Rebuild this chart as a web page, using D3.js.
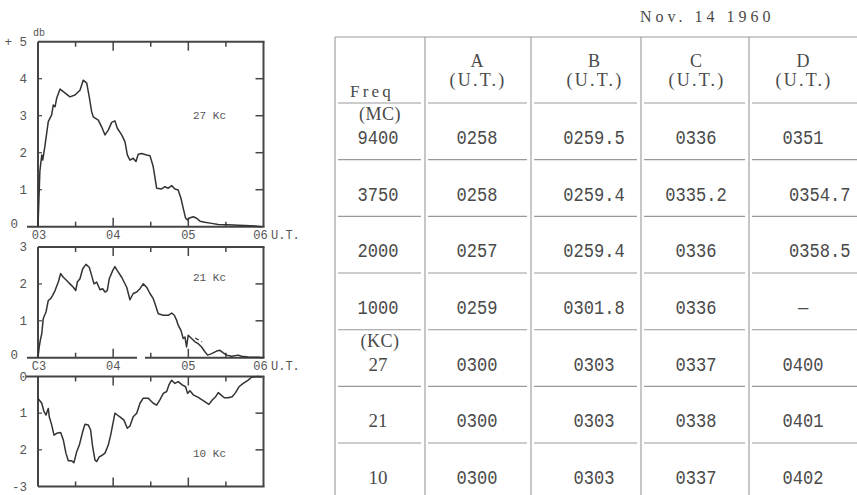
<!DOCTYPE html>
<html>
<head>
<meta charset="utf-8">
<script src="https://cdn.jsdelivr.net/npm/d3@7/dist/d3.min.js"></script>
<style>
  html, body { margin: 0; padding: 0; background: #fff; }
  svg { display: block; }
</style>
</head>
<body>
<svg id="fig" width="857" height="495"></svg>
<script>
// ---- Data ---------------------------------------------------------------
// Minutes after 03:00 U.T. and signal change in db for each VLF record.
const t27  = [0,1.5,3,3.8,5.6,8.2,10.9,12.2,13.6,14.9,17.6,20.2,25.5,29.5,33.5,36.1,38.9,40.9,42.8,44.1,48.1,50.8,53.5,56.1,58.8,61.4,63.3,66.8,69.4,71.3,73.4,76.0,78.2,80.0,82.7,86.7,89.4,92.0,94.7,98.7,101.3,104.0,106.7,109.3,111.9,114.1,115.9,117.8,119.4,120.5,123.9,126.6,129.3,133.2,138.6,143.9,151.8,159.8,165.2,173.1,178.5];
const db27 = [0,1.5,1.94,1.8,2.2,2.84,3.02,3.29,3.24,3.47,3.72,3.65,3.51,3.56,3.69,3.96,3.88,3.51,3.11,2.97,2.88,2.70,2.48,2.61,2.82,2.86,2.66,2.48,2.30,1.94,1.80,1.85,1.76,1.96,1.98,1.94,1.92,1.62,1.04,1.02,1.08,1.04,1.11,1.02,0.99,0.77,0.50,0.23,0.18,0.23,0.27,0.23,0.15,0.12,0.09,0.06,0.05,0.04,0.03,0.02,0];

const t21  = [0,1,2,3,4.2,6.4,8.2,10.1,11.7,13.6,16.2,18.1,20.2,22.9,25.5,28.2,30.1,31.4,33.5,35.7,38.3,40.9,42.8,44.7,46.8,49.5,51.6,53.5,55.3,56.9,59.6,61.4,63.3,66.8,70.8,73.4,76.0,78.8,81.4,84.0,86.7,89.4,92.0,93.4,96.0,100.0,104.0,106.7,108.8,110.7,111.9,114.1,115.9,117.3,118.6,119.9,122.6,125.3,127.9,130.6,133.2,135.4,138.6,142.6,145.2,147.9,150.6,154.6,159.8,162.5,167.8,175.8,180];
const db21 = [0,0.3,0.5,0.65,1.06,1.24,1.55,1.60,1.69,1.82,2.05,2.28,2.18,2.09,2.0,1.91,1.82,2.05,2.14,2.41,2.53,2.45,2.23,2.0,2.05,1.84,1.87,1.78,1.82,2.14,2.36,2.47,2.36,2.18,1.91,1.57,1.74,1.78,1.87,2.0,1.91,1.74,1.60,1.46,1.19,1.15,1.15,1.21,1.15,1.01,0.88,0.74,0.52,0.56,0.29,0.61,0.52,0.43,0.38,0.29,0.16,0.07,0.11,0.18,0.20,0.13,0.07,0.04,0.07,0.04,0.02,0.01,0];
// short dashed alternative trace on the 21 Kc record
const t21dash  = [125.5, 131];
const db21dash = [0.53, 0.43];

const t10  = [0,1.0,3.0,4.8,6.4,8.2,9.0,10.9,12.8,14.9,18.1,20.2,22.3,24.2,26.9,28.7,30.9,33.0,35.7,37.5,40.1,42.0,43.6,45.5,46.8,48.9,51.6,53.5,56.1,58.0,59.6,61.4,63.3,65.4,68.6,71.3,73.4,76.0,78.8,81.4,84.0,88.0,89.4,92.0,94.7,97.3,100.0,102.7,104.5,106.7,109.3,111.9,115.1,117.8,119.4,121.3,123.9,127.9,131.9,136.4,139.1,141.8,143.9,146.0,148.7,151.8,155.0,157.7,160.4,163.8,167.8,170.5,175.8,178.5];
const db10 = [0.6,0.64,0.73,0.96,1.05,0.87,1.10,1.32,1.60,1.55,1.53,1.73,2.09,2.30,2.30,2.35,2.05,1.87,1.50,1.30,1.32,1.46,1.91,2.28,2.32,2.19,2.14,2.09,1.87,1.60,1.32,1.00,1.05,1.10,1.19,1.41,1.35,1.10,1.00,0.73,0.59,0.59,0.64,0.73,0.78,0.64,0.46,0.41,0.23,0.10,0.19,0.14,0.23,0.28,0.46,0.39,0.50,0.57,0.66,0.76,0.64,0.55,0.44,0.50,0.58,0.58,0.55,0.44,0.28,0.19,0.10,0.02,0,0.02];

const hourTicks = [0, 60, 120, 180];
const halfTicks = [30, 90, 150];

// Table of onset times
const tableDate = "Nov. 14 1960";
const colHeads  = ["A", "B", "C", "D"];
const freqs = ["9400", "3750", "2000", "1000", "27", "21", "10"];
const freqUnits = ["(MC)", "", "", "", "(KC)", "", ""];
const colA = ["0258", "0258", "0257", "0259", "0300", "0300", "0300"];
const colB = ["0259.5", "0259.4", "0259.4", "0301.8", "0303", "0303", "0303"];
const colC = ["0336", "0335.2", "0336", "0336", "0337", "0338", "0337"];
const colD = ["0351", "0354.7", "0358.5", "\u2014", "0400", "0401", "0402"];

// ---- Drawing ------------------------------------------------------------
const svg = d3.select("#fig");
const INK = "#333";
const FRAME = "#444";
const labelFont = "'Liberation Mono', 'DejaVu Sans Mono', monospace";
const serif = "'Liberation Serif', 'DejaVu Serif', serif";

const x = d3.scaleLinear().domain([0, 180]).range([38, 263.5]);

const panels = [
  { t: t27, v: db27, top: 41.7, bottom: 226.7, domain: [0, 5], yTicks: [1,2,3,4],
    yLabels: [[5,"+ 5"],[4,"4"],[3,"3"],[2,"2"],[1,"1"]], zeroLabel: "0",
    name: "27 Kc", nameY: 119, xLabels: ["03","04","05","06"], axisBelow: true, gap: null },
  { t: t21, v: db21, top: 247, bottom: 357.7, domain: [0, 3], yTicks: [1,2],
    yLabels: [[3,"3"],[2,"2"],[1,"1"]], zeroLabel: "0",
    name: "21 Kc", nameY: 281, xLabels: ["C3","04","05","06"], axisBelow: true, gap: [137, 145] },
  { t: t10, v: db10, top: 376.5, bottom: 486.5, domain: [3, 0], yTicks: [1,2],
    yLabels: [[0,"0"],[1,"1"],[2,"2"],[3,"-3"]], zeroLabel: null,
    name: "10 Kc", nameY: 457, xLabels: null, axisBelow: false, gap: null }
];

const line = (y) => d3.line().x(d => x(d[0])).y(d => y(d[1])).curve(d3.curveLinear);

panels.forEach((p, idx) => {
  const y = d3.scaleLinear().domain(p.domain).range([p.bottom, p.top]);
  const g = svg.append("g");
  const L = x(0), R = x(180);

  // frame
  g.append("line").attr("x1", L).attr("x2", L).attr("y1", p.top).attr("y2", p.bottom)
    .attr("stroke", FRAME).attr("stroke-width", 2);
  g.append("line").attr("x1", R).attr("x2", R).attr("y1", p.top).attr("y2", p.bottom)
    .attr("stroke", FRAME).attr("stroke-width", 2);
  const topStart = idx === 2 ? 26 : L;
  g.append("line").attr("x1", topStart).attr("x2", R + 1).attr("y1", p.top).attr("y2", p.top)
    .attr("stroke", FRAME).attr("stroke-width", 2);
  const botStart = p.axisBelow ? 27 : L;
  if (p.gap) {
    g.append("line").attr("x1", botStart).attr("x2", p.gap[0]).attr("y1", p.bottom).attr("y2", p.bottom)
      .attr("stroke", FRAME).attr("stroke-width", 2);
    g.append("line").attr("x1", p.gap[1]).attr("x2", R + 1).attr("y1", p.bottom).attr("y2", p.bottom)
      .attr("stroke", FRAME).attr("stroke-width", 2);
  } else {
    g.append("line").attr("x1", botStart).attr("x2", R + 1).attr("y1", p.bottom).attr("y2", p.bottom)
      .attr("stroke", FRAME).attr("stroke-width", 2);
  }

  // time ticks, inward from top and bottom edges
  const tickData = hourTicks.slice(1, 3).map(v => [v, 9]).concat(halfTicks.map(v => [v, 5]));
  g.selectAll(".tt").data(tickData).join("line")
    .attr("x1", d => x(d[0])).attr("x2", d => x(d[0]))
    .attr("y1", p.top).attr("y2", d => p.top + d[1])
    .attr("stroke", FRAME).attr("stroke-width", 1.5);
  g.selectAll(".bt").data(tickData).join("line")
    .attr("x1", d => x(d[0])).attr("x2", d => x(d[0]))
    .attr("y1", p.bottom).attr("y2", d => p.bottom - d[1])
    .attr("stroke", FRAME).attr("stroke-width", 1.5);

  // value ticks, inward from both sides
  g.selectAll(".rt").data(p.yTicks).join("line")
    .attr("x1", R).attr("x2", R - 8).attr("y1", d => y(d)).attr("y2", d => y(d))
    .attr("stroke", FRAME).attr("stroke-width", 1.5);
  g.selectAll(".lt").data(p.yTicks).join("line")
    .attr("x1", L).attr("x2", L + 4).attr("y1", d => y(d)).attr("y2", d => y(d))
    .attr("stroke", FRAME).attr("stroke-width", 1.2);

  // value labels
  g.selectAll(".yl").data(p.yLabels).join("text")
    .attr("x", 27).attr("y", d => y(d[0]) + 4)
    .attr("text-anchor", "end")
    .attr("font-family", labelFont).attr("font-size", 12.5).attr("fill", "#555")
    .text(d => d[1]);
  if (p.zeroLabel) {
    g.append("text").attr("x", 18).attr("y", y(0) + 1)
      .attr("text-anchor", "end")
      .attr("font-family", labelFont).attr("font-size", 12.5).attr("fill", "#555")
      .text(p.zeroLabel);
  }

  // time labels under the axis
  if (p.xLabels) {
    g.selectAll(".xl").data(hourTicks).join("text")
      .attr("x", (d, i) => x(d) + (i === 0 ? 1 : i === 3 ? -3 : 0))
      .attr("y", p.bottom + 12)
      .attr("text-anchor", "middle")
      .attr("font-family", labelFont).attr("font-size", 12).attr("fill", "#555")
      .text((d, i) => p.xLabels[i]);
    g.append("text").attr("x", 271).attr("y", p.bottom + 12)
      .attr("font-family", labelFont).attr("font-size", 12).attr("fill", "#555")
      .text("U.T.");
  }

  // panel name
  g.append("text").attr("x", 193).attr("y", p.nameY)
    .attr("font-family", labelFont).attr("font-size", 11).attr("fill", "#555")
    .text(p.name);

  // record trace
  g.append("path")
    .datum(p.t.map((tv, i) => [tv, p.v[i]]))
    .attr("d", line(y))
    .attr("fill", "none").attr("stroke", INK).attr("stroke-width", 1.5)
    .attr("stroke-linejoin", "round");

  if (idx === 1) {
    g.append("path")
      .datum(t21dash.map((tv, i) => [tv, db21dash[i]]))
      .attr("d", line(y))
      .attr("fill", "none").attr("stroke", INK).attr("stroke-width", 1.2)
      .attr("stroke-dasharray", "4,3");
  }
});

// "db" unit over the top panel
svg.append("text").attr("x", 33).attr("y", 36)
  .attr("font-family", labelFont).attr("font-size", 10).attr("fill", "#555").text("db");

// ---- Table ---------------------------------------------------------------
const tbl = svg.append("g");
const colEdges = [335, 425, 531, 641, 749, 870];
const colCenters = [378, 477, 594, 696, 803];
const headTop = 37, headBottom = 103, rowH = 56.67;
const rowTop = i => headBottom + i * rowH;
const GRID = "#999";
const TXT = "#4a4a4a";

tbl.append("text").attr("x", 640).attr("y", 22)
  .attr("font-family", serif).attr("font-size", 16).attr("letter-spacing", 4)
  .attr("fill", TXT).text(tableDate);

tbl.append("line").attr("x1", colEdges[0]).attr("x2", 857).attr("y1", headTop).attr("y2", headTop)
  .attr("stroke", GRID).attr("stroke-width", 1.2);
tbl.selectAll(".vl").data(colEdges.slice(0, 5)).join("line")
  .attr("x1", d => d).attr("x2", d => d).attr("y1", headTop).attr("y2", 495)
  .attr("stroke", GRID).attr("stroke-width", 1.1);

// broken horizontal rules, one segment per cell
const ruleYs = [headBottom].concat(d3.range(1, 7).map(rowTop));
const segs = [];
ruleYs.forEach(yv => {
  for (let c = 0; c < 5; c++) segs.push([colEdges[c] + 3, Math.min(colEdges[c + 1] - 4, 857), yv]);
});
tbl.selectAll(".hl").data(segs).join("line")
  .attr("x1", d => d[0]).attr("x2", d => d[1]).attr("y1", d => d[2]).attr("y2", d => d[2])
  .attr("stroke", GRID).attr("stroke-width", 1.1);

// header
tbl.append("text").attr("x", 350).attr("y", 97)
  .attr("font-family", serif).attr("font-size", 17).attr("letter-spacing", 3.2)
  .attr("fill", TXT).text("Freq");
colHeads.forEach((h, i) => {
  tbl.append("text").attr("x", colCenters[i + 1]).attr("y", 67)
    .attr("text-anchor", "middle").attr("font-family", serif).attr("font-size", 18)
    .attr("fill", TXT).text(h);
  tbl.append("text").attr("x", colCenters[i + 1] + 1).attr("y", 86)
    .attr("text-anchor", "middle").attr("font-family", serif).attr("font-size", 18)
    .attr("letter-spacing", 2.2).attr("fill", TXT).text("(U.T.)");
});

// body: narrow, tall typewriter digits
const mono = "'Liberation Mono', 'DejaVu Sans Mono', monospace";
const cell = (xc, yb, str, anchor) => tbl.append("text")
  .attr("transform", `translate(${xc},${yb}) scale(0.9,1.08)`)
  .attr("text-anchor", anchor || "middle").attr("font-family", mono).attr("font-size", 19)
  .attr("fill", TXT).text(str);

const cols = [colA, colB, colC, colD];
freqs.forEach((f, r) => {
  const base = rowTop(r) + 41;
  if (r >= 4) {
    tbl.append("text").attr("x", colCenters[0]).attr("y", base)
      .attr("text-anchor", "middle").attr("font-family", serif).attr("font-size", 19)
      .attr("fill", TXT).text(f);
  } else {
    cell(colCenters[0], base, f);
  }
  if (freqUnits[r]) {
    tbl.append("text").attr("x", colCenters[0] + 2).attr("y", rowTop(r) + 17)
      .attr("text-anchor", "middle").attr("font-family", serif).attr("font-size", 18)
      .attr("letter-spacing", 0.5).attr("fill", TXT).text(freqUnits[r]);
  }
  cols.forEach((col, c) => {
    const s = col[r];
    if (c === 3 && s.length > 4) {
      // the longer entries in the last column are typed from a fixed left margin
      cell(colEdges[4] + 40, base, s, "start");
    } else {
      cell(colCenters[c + 1], base, s);
    }
  });
});
</script>
</body>
</html>
